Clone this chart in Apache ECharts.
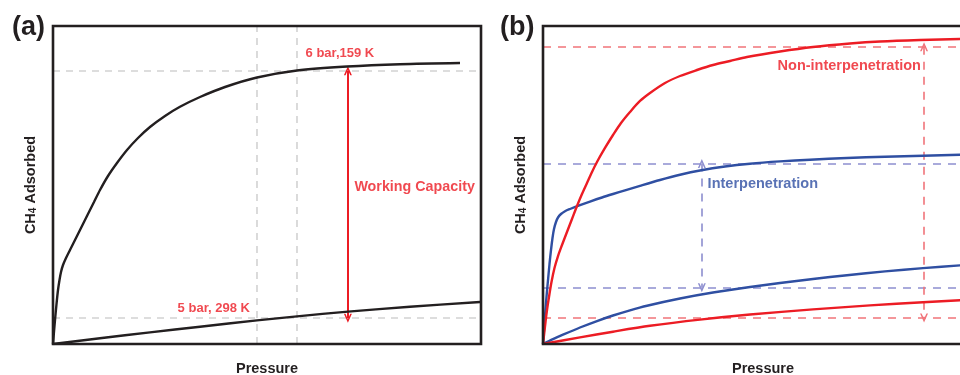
<!DOCTYPE html>
<html>
<head>
<meta charset="utf-8">
<script src="https://cdn.jsdelivr.net/npm/echarts@6/dist/echarts.min.js"></script>
<style>
html,body{margin:0;padding:0;background:#fff;}
#chart{width:960px;height:375px;}
</style>
</head>
<body>
<div id="chart"></div>
<script>
// ---------- Panel (a) data (arbitrary units) ----------
const pressureA159 = [0, 0.19, 0.47, 0.82, 1.17, 1.52, 1.87, 2.34, 3.04, 3.97, 5.14, 6.31, 7.94, 9.58, 10.98, 12.85, 14.95, 17.29, 19.86, 22.66, 26.17, 29.67, 34.35, 40.19, 47.66, 57.01, 68.69, 81.07, 95.09];
const uptakeA159   = [0, 3.14, 7.55, 12.58, 16.98, 20.13, 22.64, 24.84, 27.04, 29.56, 32.70, 35.85, 40.25, 44.65, 48.43, 52.83, 56.92, 61.01, 64.78, 68.24, 71.70, 74.59, 77.67, 80.82, 83.81, 86.01, 87.26, 87.99, 88.36];
const pressureA298 = [0, 10.98, 22.66, 34.35, 47.66, 57.01, 68.93, 83.41, 99.77];
const uptakeA298   = [0, 1.82, 3.65, 5.44, 7.42, 8.68, 10.19, 11.70, 13.21];
const guideXA = [47.7, 57];        // dashed vertical guides
const guideYA = [85.9, 8.1];       // dashed horizontal guides
const arrowXA = 68.9;              // working capacity arrow position
const labelsA = ['6 bar,159 K', '5 bar, 298 K', 'Working Capacity'];

// ---------- Panel (b) data ----------
const pressureNonHigh = [0, 0.23, 0.57, 0.91, 1.36, 1.93, 2.61, 3.41, 4.32, 5.45, 6.59, 7.73, 8.86, 10.0, 11.14, 12.27, 14.09, 15.91, 17.73, 19.77, 22.05, 24.32, 27.73, 31.14, 35.0, 38.64, 42.5, 46.36, 53.86, 61.36, 69.77, 76.59, 85.68, 94.77, 100];
const uptakeNonHigh   = [0, 2.83, 6.92, 10.69, 14.78, 19.50, 23.90, 27.67, 31.13, 35.22, 39.31, 43.40, 47.17, 50.63, 54.09, 57.23, 61.64, 65.72, 69.50, 72.96, 76.42, 78.93, 82.08, 84.28, 86.16, 87.74, 88.99, 90.25, 91.98, 93.40, 94.50, 95.13, 95.60, 95.91, 96.04];
const pressureIntHigh = [0, 0.23, 0.45, 0.68, 0.91, 1.14, 1.48, 1.82, 2.16, 2.5, 2.95, 3.41, 4.09, 5.0, 6.14, 8.41, 10.68, 13.41, 15.91, 18.64, 22.05, 26.59, 31.14, 35.68, 41.36, 47.05, 53.86, 60.68, 69.09, 77.73, 86.36, 94.77, 100];
const uptakeIntHigh   = [0, 4.40, 8.81, 12.89, 16.67, 20.13, 25.16, 29.56, 33.33, 36.16, 38.36, 39.78, 40.88, 41.76, 42.45, 43.65, 44.78, 46.07, 47.17, 48.33, 49.75, 51.57, 53.21, 54.56, 55.82, 56.70, 57.42, 57.96, 58.49, 58.90, 59.21, 59.50, 59.62];
const pressureIntLow  = [0, 2.27, 4.55, 8.41, 12.27, 15.91, 19.77, 23.64, 31.14, 38.64, 47.05, 53.86, 61.36, 69.09, 77.73, 86.36, 94.77, 100];
const uptakeIntLow    = [0, 1.51, 2.92, 5.19, 7.23, 8.96, 10.60, 12.04, 14.31, 16.19, 17.92, 19.18, 20.44, 21.64, 22.83, 23.87, 24.72, 25.19];
const pressureNonLow  = [0, 8.41, 15.91, 24.32, 35.68, 47.05, 61.36, 74.32, 86.36, 94.77, 100];
const uptakeNonLow    = [0, 2.08, 3.87, 5.72, 7.67, 9.28, 10.88, 12.14, 13.11, 13.77, 14.15];
const nonGuideY = [93.5, 8.2];
const intGuideY = [56.8, 17.7];
const nonArrowX = 86.6;
const intArrowX = 36.1;
const labelsB = ['Non-interpenetration', 'Interpenetration'];

// ---------- styles ----------
const FONT = '"Liberation Sans", Arial, Helvetica, sans-serif';
const BLACK = '#231f20';
const RED = '#ec1c24';
const BLUE = '#2f4fa2';
const RED_D = '#f1747a';
const BLUE_D = '#8d8ecf';
const GRAY_D = '#d2d2d2';
const CHEVRON = 'path://M0,10 L5,0 L10,10 L8,10 L5,4 L2,10 Z';

const zip = (xs, ys) => xs.map((x, i) => [x, ys[i]]);

function curve(xs, ys, color, idx) {
  return {
    type: 'line', xAxisIndex: idx, yAxisIndex: idx,
    data: zip(xs, ys), smooth: 0.3,
    showSymbol: false, symbol: 'none', silent: true, z: 5,
    lineStyle: { color: color, width: 2.4 }
  };
}
function guides(idx, lines, color, dash, width, z) {
  return {
    type: 'line', xAxisIndex: idx, yAxisIndex: idx, data: [], silent: true, z: z,
    markLine: {
      silent: true, symbol: ['none', 'none'], label: { show: false },
      lineStyle: { color: color, type: dash, width: width },
      data: lines
    }
  };
}
function arrow(idx, x, y1, y2, color, dash, width) {
  return {
    type: 'line', xAxisIndex: idx, yAxisIndex: idx, data: [], silent: true, z: 4,
    markLine: {
      silent: true, symbol: [CHEVRON, CHEVRON], symbolSize: [8, 9], label: { show: false },
      lineStyle: { color: color, type: dash, width: width },
      data: [[{ coord: [x, y1] }, { coord: [x, y2] }]]
    }
  };
}
function labels(idx, items, color, size) {
  return {
    type: 'scatter', xAxisIndex: idx, yAxisIndex: idx, silent: true, z: 6,
    symbolSize: 1, itemStyle: { color: 'rgba(0,0,0,0)' },
    data: items.map(it => ({ name: it[0], value: [it[1], it[2]] })),
    label: {
      show: true, position: 'right', distance: 0, formatter: p => p.name,
      color: color, fontSize: size, fontWeight: 'bold', fontFamily: FONT
    }
  };
}
function xAx(idx) {
  return {
    type: 'value', gridIndex: idx, min: 0, max: 100,
    axisLine: { show: false }, axisTick: { show: false }, axisLabel: { show: false }, splitLine: { show: false },
    name: 'Pressure', nameLocation: 'middle', nameGap: 17,
    nameTextStyle: { color: BLACK, fontSize: 14.5, fontWeight: 'bold', fontFamily: FONT }
  };
}
function yAx(idx) {
  return {
    type: 'value', gridIndex: idx, min: 0, max: 100,
    axisLine: { show: false }, axisTick: { show: false }, axisLabel: { show: false }, splitLine: { show: false },
    name: '{a|CH}{s|4}{a| Adsorbed}', nameLocation: 'middle', nameGap: 15, nameRotate: 90,
    nameTextStyle: {
      color: BLACK, fontSize: 14.5, fontWeight: 'bold', fontFamily: FONT,
      rich: {
        a: { color: BLACK, fontSize: 14.5, fontWeight: 'bold', fontFamily: FONT, lineHeight: 17, verticalAlign: 'bottom' },
        s: { color: BLACK, fontSize: 10, fontWeight: 'bold', fontFamily: FONT, lineHeight: 10, verticalAlign: 'bottom' }
      }
    }
  };
}

const chart = echarts.init(document.getElementById('chart'), null, { renderer: 'canvas' });
chart.setOption({
  animation: false,
  backgroundColor: '#fff',
  title: [
    { text: '(a)', left: 7, top: 9, textStyle: { color: BLACK, fontSize: 27, fontWeight: 'bold', fontFamily: FONT } },
    { text: '(b)', left: 495, top: 9, textStyle: { color: BLACK, fontSize: 27, fontWeight: 'bold', fontFamily: FONT } }
  ],
  grid: [
    { left: 53, top: 26, width: 428, height: 318, outerBoundsMode: 'none', containLabel: false, show: true, borderColor: BLACK, borderWidth: 2.6, backgroundColor: 'rgba(0,0,0,0)', z: 10 },
    { left: 543, top: 26, width: 440, height: 318, outerBoundsMode: 'none', containLabel: false, show: true, borderColor: BLACK, borderWidth: 2.6, backgroundColor: 'rgba(0,0,0,0)', z: 10 }
  ],
  xAxis: [xAx(0), xAx(1)],
  yAxis: [yAx(0), yAx(1)],
  series: [
    // panel a
    guides(0, [{ xAxis: guideXA[0] }, { xAxis: guideXA[1] }, { yAxis: guideYA[0] }, { yAxis: guideYA[1] }], GRAY_D, [7, 6], 1.6, 1),
    arrow(0, arrowXA, guideYA[0], guideYA[1], RED, 'solid', 2),
    curve(pressureA159, uptakeA159, BLACK, 0),
    curve(pressureA298, uptakeA298, BLACK, 0),
    labels(0, [[labelsA[0], 58.9, 91.5], [labelsA[1], 29.0, 11.3]], RED, 13),
    labels(0, [[labelsA[2], 70.3, 49.4]], RED, 14.3),
    // panel b
    guides(1, [{ yAxis: nonGuideY[0] }, { yAxis: nonGuideY[1] }], RED_D, [8, 7], 1.6, 2),
    guides(1, [{ yAxis: intGuideY[0] }, { yAxis: intGuideY[1] }], BLUE_D, [8, 7], 1.6, 2),
    arrow(1, nonArrowX, nonGuideY[0], nonGuideY[1], RED_D, [8, 7], 1.6),
    arrow(1, intArrowX, intGuideY[0], intGuideY[1], BLUE_D, [8, 7], 1.6),
    curve(pressureIntHigh, uptakeIntHigh, BLUE, 1),
    curve(pressureIntLow, uptakeIntLow, BLUE, 1),
    curve(pressureNonHigh, uptakeNonHigh, RED, 1),
    curve(pressureNonLow, uptakeNonLow, RED, 1),
    labels(1, [[labelsB[0], 53.2, 87.4]], RED, 14.5),
    labels(1, [[labelsB[1], 37.3, 50.3]], BLUE, 14.5)
  ]
});
</script>
</body>
</html>
